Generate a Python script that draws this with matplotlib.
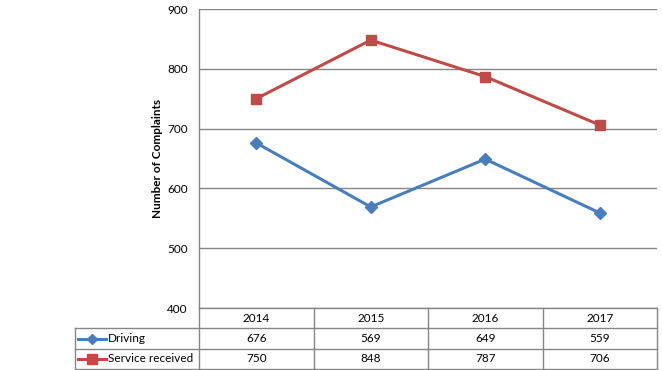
import matplotlib
matplotlib.use("Agg")
import matplotlib.pyplot as plt

years = ['2014', '2015', '2016', '2017']
driving = [676, 569, 649, 559]
service = [750, 848, 787, 706]
series_names = ['Driving', 'Service received']
yticks = [400, 500, 600, 700, 800, 900]
ylabel = 'Number of Complaints'

plt.rcParams['font.family'] = ['Lato', 'DejaVu Sans']

W, H = 662, 370
fig = plt.figure(figsize=(W / 100, H / 100), dpi=100)


def fx(px):
    return px / W


def fy(py):
    return 1 - py / H


L, R, T, B = 199, 657, 9, 308
TL, TB = 75, 369
grid_c = '#868686'
blue = '#4A7EBB'
red = '#BE4B48'
fs = 8.5

ax = fig.add_axes([fx(L), fy(B), fx(R) - fx(L), fy(T) - fy(B)])
x = list(range(len(years)))
ax.plot(x, driving, color=blue, lw=2.2, marker='D', ms=6, mfc=blue, mec=blue, zorder=3)
ax.plot(x, service, color=red, lw=2.2, marker='s', ms=7, mfc=red, mec=red, zorder=3)
ax.set_xlim(-0.5, len(years) - 0.5)
ax.set_ylim(yticks[0], yticks[-1])
ax.set_yticks(yticks)
ax.set_xticks([])
ax.grid(axis='y', color=grid_c, lw=1)
ax.set_axisbelow(True)
for s in ['top', 'right', 'bottom']:
    ax.spines[s].set_visible(False)
ax.spines['left'].set_color(grid_c)
ax.spines['left'].set_linewidth(1)
ax.tick_params(axis='y', length=0, pad=8, labelsize=fs)
ax.set_ylabel(ylabel, fontsize=fs, fontweight='bold', labelpad=3)

# data table
cw = (R - L) / len(years)


def u(px):
    return -0.5 + (px - L) / cw


tax = fig.add_axes([fx(TL), fy(TB), fx(R) - fx(TL), fy(B) - fy(TB)])
tax.set_xlim(u(TL), u(R))
tax.set_ylim(3, 0)
tax.axis('off')
lk = dict(color=grid_c, lw=1, clip_on=False)
for i in range(len(years) + 1):
    tax.plot([i - 0.5, i - 0.5], [0, 3], **lk)
tax.plot([u(TL), u(TL)], [1, 3], **lk)
tax.plot([-0.5, len(years) - 0.5], [0, 0], **lk)
for r in [1, 2, 3]:
    tax.plot([u(TL), len(years) - 0.5], [r, r], **lk)

for i, yr in enumerate(years):
    tax.text(i, 0.5, yr, ha='center', va='center', fontsize=fs)
for r, (vals, name, col, mk, ms) in enumerate(
        [(driving, series_names[0], blue, 'D', 5.5), (service, series_names[1], red, 's', 6.5)], start=1):
    yc = r + 0.5
    for i, v in enumerate(vals):
        tax.text(i, yc, str(v), ha='center', va='center', fontsize=fs)
    tax.plot([u(78), u(106)], [yc, yc], color=col, lw=2.2, clip_on=False)
    tax.plot([u(92)], [yc], marker=mk, ms=ms, color=col, clip_on=False)
    tax.text(u(108), yc, name, ha='left', va='center', fontsize=fs)

fig.savefig('out.png', dpi=100)
